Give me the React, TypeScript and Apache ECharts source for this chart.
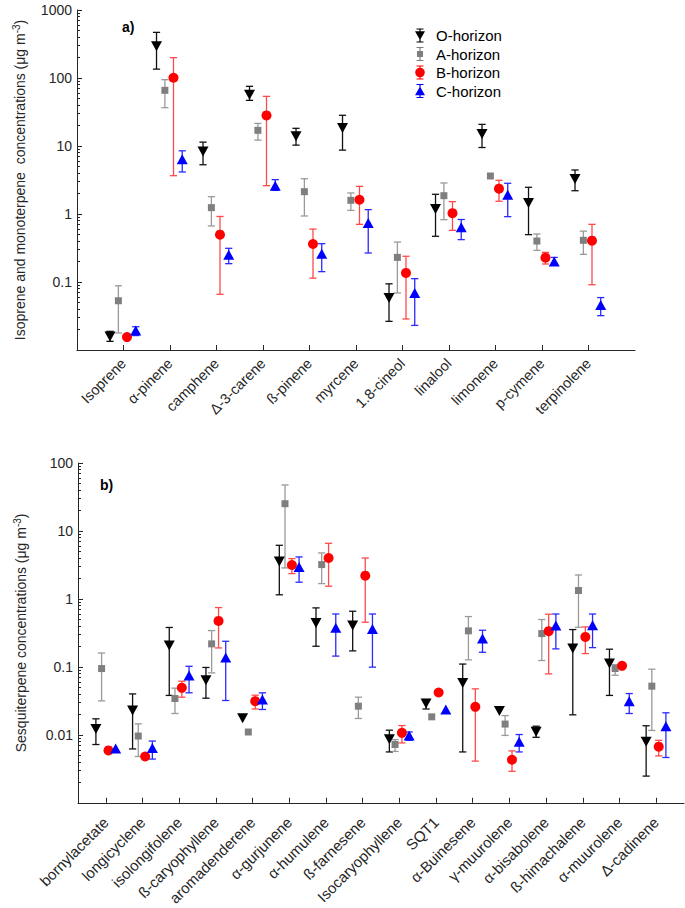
import React, { useEffect, useRef } from 'react';
import * as echarts from 'echarts';

// ---------- Data ----------
const monoCategories = ['Isoprene', 'α-pinene', 'camphene', 'Δ-3-carene', 'ß-pinene', 'myrcene', '1.8-cineol', 'linalool', 'limonene', 'p-cymene', 'terpinolene'];

const monoO = [0.0158, 292, 8.3, 56.9, 13.9, 18.4, 0.058, 1.18, 15, 1.45, 3.27];
const monoOLow = [0.0134, 135, 5.3, 46.9, 10.3, 8.7, 0.0264, 0.47, 9.5, 0.497, 2.2];
const monoOHigh = [0.0188, 469, 11.4, 75.4, 18.2, 28.3, 0.094, 1.95, 20.8, 2.47, 4.44];

const monoA = [0.053, 65.9, 1.24, 17, 2.13, 1.59, 0.23, 1.86, 3.62, 0.4, 0.41];
const monoALow = [0.0178, 36.6, 0.667, 12.2, 0.935, 1.13, 0.069, 0.826, 3.62, 0.292, 0.255];
const monoAHigh = [0.088, 94.5, 1.8, 21.5, 3.3, 2.04, 0.387, 2.86, 3.62, 0.508, 0.56];

const monoB = [0.0155, 101, 0.497, 28.2, 0.362, 1.62, 0.136, 1.03, 2.36, 0.228, 0.405];
const monoBLow = [0.0145, 3.66, 0.066, 2.61, 0.114, 0.705, 0.0286, 0.575, 1.54, 0.184, 0.0912];
const monoBHigh = [0.0165, 199, 0.92, 53.7, 0.6, 2.55, 0.239, 1.52, 3.13, 0.273, 0.705];

const monoC = [0.0194, 6.4, 0.252, 2.6, 0.261, 0.74, 0.069, 0.637, 1.92, 0.201, 0.046];
const monoCLow = [0.0163, 4.15, 0.186, 2.23, 0.142, 0.267, 0.023, 0.42, 0.914, 0.176, 0.032];
const monoCHigh = [0.022, 8.5, 0.313, 3.2, 0.366, 1.16, 0.112, 0.83, 2.83, 0.23, 0.059];

const sesqCategories = ['bornylacetate', 'longicyclene', 'isolongifolene', 'ß-caryophyllene', 'aromadenderene', 'α-gurjunene', 'α-humulene', 'ß-farnesene', 'Isocaryophyllene', 'SQT1', 'α-Buinesene', 'γ-muurolene', 'α-bisabolene', 'ß-himachalene', 'α-muurolene', 'Δ-cadinene'];

const sesqO = [0.0122, 0.0228, 0.206, 0.0637, 0.0176, 3.54, 0.444, 0.405, 0.0086, 0.029, 0.058, 0.0225, 0.0111, 0.186, 0.112, 0.0079];
const sesqOLow = [0.0072, 0.0062, 0.038, 0.0346, 0.0176, 1.15, 0.201, 0.172, 0.0056, 0.024, 0.0056, 0.0225, 0.0092, 0.0197, 0.038, 0.00247];
const sesqOHigh = [0.0172, 0.04, 0.38, 0.098, 0.0176, 6.15, 0.738, 0.659, 0.0117, 0.033, 0.11, 0.0225, 0.0134, 0.354, 0.182, 0.0136];

const sesqA = [0.0945, 0.0096, 0.0342, 0.218, 0.011, 25.2, 3.2, 0.0264, 0.0072, 0.0184, 0.339, 0.0144, 0.309, 1.33, 0.0945, 0.052];
const sesqALow = [0.0316, 0.0048, 0.0206, 0.0816, 0.011, 2.86, 1.68, 0.0174, 0.0057, 0.0184, 0.127, 0.0098, 0.124, 0.383, 0.0754, 0.0116];
const sesqAHigh = [0.16, 0.0145, 0.0486, 0.342, 0.011, 47.5, 4.75, 0.0358, 0.0085, 0.0184, 0.55, 0.0192, 0.497, 2.25, 0.108, 0.0925];

const sesqB = [0.0059, 0.0048, 0.0491, 0.475, 0.0313, 3.16, 4.0, 2.2, 0.0107, 0.042, 0.0258, 0.0043, 0.335, 0.276, 0.1035, 0.0067];
const sesqBLow = [0.0059, 0.0048, 0.0358, 0.19, 0.024, 2.36, 1.54, 0.454, 0.0076, 0.042, 0.0041, 0.0029, 0.0789, 0.157, 0.1035, 0.0049];
const sesqBHigh = [0.0059, 0.0048, 0.0616, 0.746, 0.0383, 3.92, 6.59, 4.0, 0.0137, 0.042, 0.0475, 0.0058, 0.595, 0.387, 0.1035, 0.0083];

const sesqC = [0.0063, 0.0064, 0.0746, 0.137, 0.033, 2.95, 0.375, 0.362, 0.0098, 0.0236, 0.261, 0.0079, 0.405, 0.41, 0.0313, 0.0134];
const sesqCLow = [0.0063, 0.0044, 0.0415, 0.032, 0.0236, 1.76, 0.144, 0.099, 0.0083, 0.0236, 0.164, 0.0056, 0.184, 0.192, 0.0206, 0.00464];
const sesqCHigh = [0.0063, 0.0081, 0.102, 0.238, 0.0415, 4.15, 0.6, 0.6, 0.011, 0.0236, 0.346, 0.0101, 0.6, 0.6, 0.0405, 0.0211];

const horizonNames = ['O-horizon', 'A-horizon', 'B-horizon', 'C-horizon'];

// ---------- Styles ----------
const FONT = '"Liberation Sans", Arial, Helvetica, sans-serif';
const AXIS_COLOR = '#262626';
const markerColors = ['#000000', '#7f7f7f', '#ff0000', '#0000ff'];
const errColors = ['#111111', '#9a9a9a', '#ff4a4a', '#2a2aff'];
const symbols = ['triangle', 'rect', 'circle', 'triangle'];
const symbolRotates = [180, 0, 0, 0];
const symbolSizes: any[] = [[11, 10], [7, 7], [10, 10], [11, 10]];
const monoOffsets = [-0.29, -0.11, 0.075, 0.263];
const sesqOffsets = [-0.272, -0.117, 0.071, 0.267];

const legendIcons = [
  'path://M5.4 0H6.6V14H5.4Z M2.5 0H9.5V1.1H2.5Z M2.5 12.9H9.5V14H2.5Z M1 2.8H11L6 11.6Z',
  'path://M5.4 0H6.6V14H5.4Z M2.5 0H9.5V1.1H2.5Z M2.5 12.9H9.5V14H2.5Z M3 4H9V10H3Z',
  'path://M5.4 0H6.6V14H5.4Z M2.5 0H9.5V1.1H2.5Z M2.5 12.9H9.5V14H2.5Z M1.2 7A4.8 4.8 0 1 1 10.8 7A4.8 4.8 0 1 1 1.2 7Z',
  'path://M5.4 0H6.6V14H5.4Z M2.5 0H9.5V1.1H2.5Z M2.5 12.9H9.5V14H2.5Z M6 2.4L11 11.2H1Z',
];

function makeErrRender(color: string) {
  return (params: any, api: any) => {
    const x = api.value(0);
    const lo = api.value(1);
    const hi = api.value(2);
    if (!(hi > lo)) return { type: 'group', children: [] };
    const pLo = api.coord([x, lo]);
    const pHi = api.coord([x, hi]);
    const hw = 3.6;
    const style = { stroke: color, lineWidth: 1.3, fill: null };
    return {
      type: 'group',
      children: [
        { type: 'line', shape: { x1: pLo[0], y1: pLo[1], x2: pHi[0], y2: pHi[1] }, style },
        { type: 'line', shape: { x1: pLo[0] - hw, y1: pLo[1], x2: pLo[0] + hw, y2: pLo[1] }, style },
        { type: 'line', shape: { x1: pHi[0] - hw, y1: pHi[1], x2: pHi[0] + hw, y2: pHi[1] }, style },
      ],
    };
  };
}

function buildSeries(gridIdx: number, values: number[][], lows: number[][], highs: number[][], offsets: number[]) {
  const errSeries: any[] = [];
  const markSeries: any[] = [];
  for (let h = 0; h < 4; h++) {
    const errData = values[h].map((_, i) => [i + offsets[h], lows[h][i], highs[h][i]]);
    errSeries.push({
      type: 'custom',
      name: horizonNames[h] + ' error',
      xAxisIndex: gridIdx,
      yAxisIndex: gridIdx,
      renderItem: makeErrRender(errColors[h]),
      data: errData,
      encode: { x: 0, y: [1, 2] },
      z: 2,
      silent: true,
    });
    markSeries.push({
      type: 'scatter',
      name: horizonNames[h],
      xAxisIndex: gridIdx,
      yAxisIndex: gridIdx,
      symbol: symbols[h],
      symbolRotate: symbolRotates[h],
      symbolSize: symbolSizes[h],
      itemStyle: { color: markerColors[h], opacity: 1 },
      data: values[h].map((v, i) => [i + offsets[h], v]),
      z: 3,
    });
  }
  return [...errSeries, ...markSeries];
}

function xAxisFor(gridIdx: number, cats: string[], min: number, max: number, fontSize: number, margin: number) {
  const idx = cats.map((_, i) => i);
  return {
    type: 'value',
    gridIndex: gridIdx,
    min,
    max,
    axisLine: { show: true, onZero: false, lineStyle: { color: AXIS_COLOR, width: 1 } },
    axisTick: { show: true, inside: true, length: 5, customValues: idx, lineStyle: { color: AXIS_COLOR } },
    splitLine: { show: false },
    axisLabel: {
      customValues: idx,
      rotate: 45,
      margin,
      fontFamily: FONT,
      fontSize,
      color: AXIS_COLOR,
      formatter: (v: number) => {
        const r = Math.round(v);
        return Math.abs(r - v) < 1e-6 && cats[r] !== undefined ? cats[r] : '';
      },
    },
  };
}

function fmtLog(v: number) {
  if (v >= 1) return String(Math.round(v));
  return String(parseFloat(v.toPrecision(3)));
}

function yAxisFor(gridIdx: number, min: number, max: number, name: string) {
  return {
    type: 'log',
    logBase: 10,
    gridIndex: gridIdx,
    min,
    max,
    name,
    nameLocation: 'middle',
    nameGap: 48,
    nameRotate: 90,
    nameTextStyle: {
      fontFamily: FONT,
      fontSize: 14,
      color: AXIS_COLOR,
      rich: {
        n: { fontFamily: FONT, fontSize: 14, color: AXIS_COLOR, lineHeight: 18 },
        s: { fontFamily: FONT, fontSize: 10, color: AXIS_COLOR, verticalAlign: 'top', lineHeight: 18 },
      },
    },
    axisLine: { show: true, onZero: false, lineStyle: { color: AXIS_COLOR, width: 1 } },
    axisTick: { show: true, inside: true, length: 5, lineStyle: { color: AXIS_COLOR } },
    minorTick: { show: true, splitNumber: 9, length: 3, lineStyle: { color: AXIS_COLOR } },
    splitLine: { show: false },
    minorSplitLine: { show: false },
    axisLabel: {
      showMinLabel: false,
      margin: 5,
      fontFamily: FONT,
      fontSize: 14,
      color: AXIS_COLOR,
      formatter: fmtLog,
    },
  };
}

export default function App() {
  const ref = useRef<HTMLDivElement>(null);

  useEffect(() => {
    if (!ref.current) return;
    const chart = echarts.init(ref.current, undefined, { renderer: 'svg' });

    const topSeries = buildSeries(
      0,
      [monoO, monoA, monoB, monoC],
      [monoOLow, monoALow, monoBLow, monoCLow],
      [monoOHigh, monoAHigh, monoBHigh, monoCHigh],
      monoOffsets,
    );
    const bottomSeries = buildSeries(
      1,
      [sesqO, sesqA, sesqB, sesqC],
      [sesqOLow, sesqALow, sesqBLow, sesqCLow],
      [sesqOHigh, sesqAHigh, sesqBHigh, sesqCHigh],
      sesqOffsets,
    );

    const option: any = {
      animation: false,
      backgroundColor: '#ffffff',
      textStyle: { fontFamily: FONT },
      grid: [
        { left: 77, top: 10, width: 558, height: 340, containLabel: false },
        { left: 78, top: 463, width: 606, height: 341, containLabel: false },
      ],
      xAxis: [
        xAxisFor(0, monoCategories, -1, 11, 14.5, 11),
        xAxisFor(1, sesqCategories, -0.76, 15.76, 15, 17),
      ],
      yAxis: [
        yAxisFor(0, 0.01, 1000, '{n|Isoprene and monoterpene  concentrations (μg m}{s|-3}{n|)}'),
        yAxisFor(1, 0.001, 100, '{n|Sesquiterpene concentrations (μg m}{s|-3}{n|)}'),
      ],
      legend: {
        orient: 'vertical',
        left: 410,
        top: 23,
        itemWidth: 22,
        itemHeight: 14,
        itemGap: 3.5,
        symbolKeepAspect: true,
        textStyle: { fontFamily: FONT, fontSize: 15, color: '#000' },
        data: horizonNames.map((n, i) => ({ name: n, icon: legendIcons[i] })),
        selectedMode: false,
      },
      graphic: [
        { type: 'text', left: 122, top: 20, style: { text: 'a)', font: `bold 14px ${FONT}`, fill: '#000' } },
        { type: 'text', left: 100, top: 478, style: { text: 'b)', font: `bold 14px ${FONT}`, fill: '#000' } },
      ],
      series: [...topSeries, ...bottomSeries],
    };

    chart.setOption(option);
    return () => chart.dispose();
  }, []);

  return (
    <div
      ref={ref}
      style={{ position: 'fixed', left: 0, top: 0, width: 685, height: 908, background: '#fff' }}
    />
  );
}
